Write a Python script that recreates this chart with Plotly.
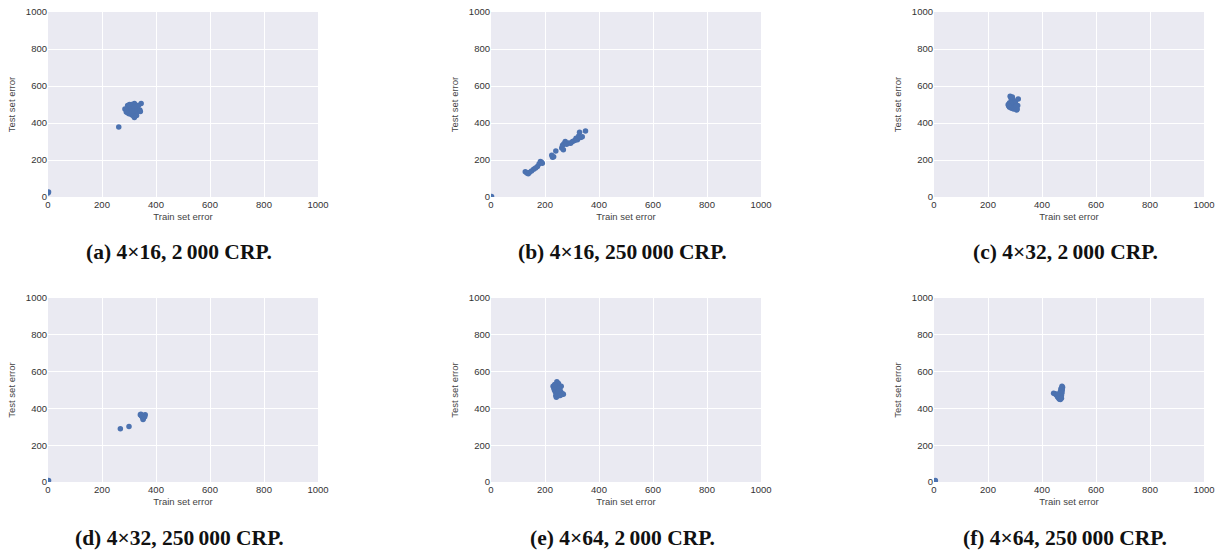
import plotly.graph_objects as go

# ---------------- data ----------------
captions = ["(a) 4×16, 2\u2009000 CRP.", "(b) 4×16, 250\u2009000 CRP.", "(c) 4×32, 2\u2009000 CRP.",
            "(d) 4×32, 250\u2009000 CRP.", "(e) 4×64, 2\u2009000 CRP.", "(f) 4×64, 250\u2009000 CRP."]
tick_vals = [0, 200, 400, 600, 800, 1000]
tick_text = ["0", "200", "400", "600", "800", "1000"]
x_title = "Train set error"
y_title = "Test set error"

a_train = [290, 295, 300, 305, 310, 315, 320, 325, 330, 335, 345, 300, 310, 320, 315, 325, 330, 305, 295, 340,
           285, 310, 320, 318, 335, 328, 302, 312, 342, 290, 262, 2, 0]
a_test = [470, 495, 480, 460, 500, 490, 505, 470, 495, 465, 505, 450, 445, 430, 440, 480, 460, 490, 455, 470,
          475, 475, 485, 455, 495, 440, 500, 465, 462, 460, 378, 27, 22]

b_train = [127, 133, 138, 142, 150, 158, 165, 172, 178, 183, 187, 190, 225, 228, 232, 240, 262, 265, 268, 270,
           275, 280, 288, 295, 302, 310, 315, 320, 325, 328, 332, 338, 350, 2]
b_test = [137, 130, 125, 133, 140, 150, 157, 165, 178, 192, 188, 183, 225, 215, 218, 248, 265, 280, 255, 288,
          300, 285, 292, 290, 300, 305, 318, 310, 330, 350, 322, 325, 357, 3]

c_train = [275, 278, 280, 282, 285, 288, 290, 292, 295, 298, 300, 302, 305, 308, 310, 312, 283, 287, 293, 297,
           285, 280, 303, 306, 290, 276]
c_test = [500, 490, 510, 545, 535, 520, 500, 485, 475, 490, 505, 515, 480, 475, 495, 530, 495, 480, 525, 510,
          505, 485, 490, 470, 540, 495]

d_train = [268, 300, 342, 346, 350, 353, 356, 360, 348, 344, 352, 358, 2]
d_test = [289, 301, 366, 360, 352, 345, 362, 366, 358, 368, 340, 355, 8]

e_train = [230, 233, 235, 236, 238, 240, 242, 244, 245, 247, 248, 250, 252, 255, 258, 260, 262, 265, 268, 240,
           237, 246, 253, 243, 256, 250]
e_test = [520, 510, 500, 530, 490, 470, 460, 545, 515, 500, 480, 535, 470, 505, 490, 520, 475, 480, 477, 515,
          525, 490, 510, 480, 470, 495]

f_train = [443, 448, 452, 455, 458, 462, 465, 468, 470, 472, 474, 475, 476, 474, 470, 468, 466, 471, 473, 462,
           460, 472, 3, 5]
f_test = [482, 480, 475, 470, 462, 455, 450, 448, 460, 470, 485, 500, 515, 520, 505, 490, 478, 495, 510, 468,
          478, 455, 5, 8]

series = [(a_train, a_test), (b_train, b_test), (c_train, c_test),
          (d_train, d_test), (e_train, e_test), (f_train, f_test)]

# ---------------- layout geometry ----------------
W, H = 1221, 553
x_px = [(48, 318), (491, 761), (934, 1204)]
y_px = [(12, 197), (298, 482)]
cap_y_px = [252, 538]

fig = go.Figure()
layout = dict(width=W, height=H, margin=dict(l=0, r=0, t=0, b=0),
              paper_bgcolor="white", plot_bgcolor="#EAEAF2", showlegend=False,
              font=dict(family="Liberation Sans, Arial, sans-serif", color="#333333"))
annotations = []

for i, (tr, te) in enumerate(series):
    row, col = divmod(i, 3)
    n = i + 1
    xs = "" if n == 1 else str(n)
    fig.add_trace(go.Scatter(x=tr, y=te, mode="markers", xaxis="x" + xs, yaxis="y" + xs,
                             marker=dict(size=5.5, color="#4C72B0", line=dict(width=0)),
                             cliponaxis=True, hoverinfo="x+y"))
    x0, x1 = x_px[col]
    y0, y1 = y_px[row]
    axis_common = dict(range=[0, 1000], tickvals=tick_vals, ticktext=tick_text, showgrid=True,
                       gridcolor="white", gridwidth=1, zeroline=False, showline=False, ticks="",
                       tickfont=dict(size=9.5, color="#333333"), fixedrange=True, automargin=False)
    layout["xaxis" + xs] = dict(axis_common, domain=[x0 / W, x1 / W], anchor="y" + xs,
                                title=dict(text=x_title, font=dict(size=9.5, color="#444444"), standoff=4))
    layout["yaxis" + xs] = dict(axis_common, domain=[1 - y1 / H, 1 - y0 / H], anchor="x" + xs,
                                title=dict(text=y_title, font=dict(size=9.5, color="#444444"), standoff=8))
    annotations.append(dict(text="<b>" + captions[i] + "</b>", xref="paper", yref="paper",
                            x=(x0 + x1) / 2 / W - 4 / W, y=1 - cap_y_px[row] / H,
                            xanchor="center", yanchor="middle", showarrow=False,
                            font=dict(family="Liberation Serif, Times New Roman, serif", size=21.5,
                                      color="#111111")))

layout["annotations"] = annotations
fig.update_layout(**layout)
fig.write_html("out.html", config={"responsive": False, "displayModeBar": False},
               post_script="document.body.style.margin='0px';document.body.style.padding='0px';")
